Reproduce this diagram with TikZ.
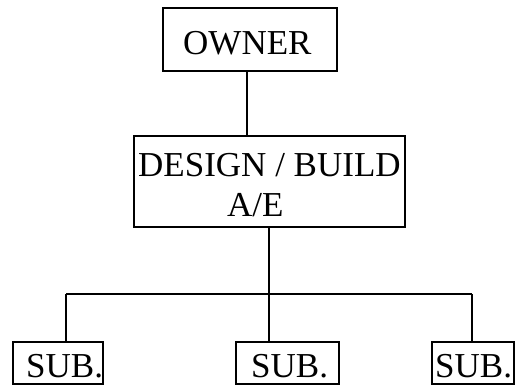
\documentclass[tikz,border=0pt]{standalone}
\usepackage{fontspec}
\setmainfont{Liberation Serif}
\begin{document}
\begin{tikzpicture}[x=1pt,y=-1pt,
  box/.style={draw=black, line width=1.5pt, rectangle, inner sep=0pt},
  txt/.style={inner sep=0pt, anchor=base west, font=\fontsize{35}{40}\selectfont},
  conn/.style={draw=black, line width=1.5pt}]
\useasboundingbox (0,0) rectangle (516,387);
\node[box, minimum width=174pt, minimum height=63pt] (owner) at (250,39.5) {};
\node[box, minimum width=271pt, minimum height=91pt] (design) at (269.5,181.5) {};
\node[box, minimum width=90pt, minimum height=42pt] (sub1) at (58,363) {};
\node[box, minimum width=103pt, minimum height=42pt] (sub2) at (287.5,363) {};
\node[box, minimum width=82pt, minimum height=42pt] (sub3) at (473,363) {};
\node[txt] (townr) at (183,55) {OWNER};
\node[txt] (tdes) at (138,177) {DESIGN / BUILD};
\node[txt] (tae) at (227,217) {A/E};
\node[txt] (ts1) at (26,377) {SUB.};
\node[txt] (ts2) at (251,377) {SUB.};
\node[txt] (ts3) at (435,377) {SUB.};
\coordinate (top) at (247,71);
\coordinate (bus) at (269,294);
\coordinate (j1) at (66,294);
\coordinate (j2) at (269,294);
\coordinate (j3) at (472,294);
\draw[conn] (top |- owner.south) -- (top |- design.north);
\draw[conn] (bus |- design.south) -- (bus);
\draw[conn] (j1) -- (j3);
\draw[conn] (j1) -- (j1 |- sub1.north);
\draw[conn] (j2) -- (j2 |- sub2.north);
\draw[conn] (j3) -- (j3 |- sub3.north);
\end{tikzpicture}
\end{document}
